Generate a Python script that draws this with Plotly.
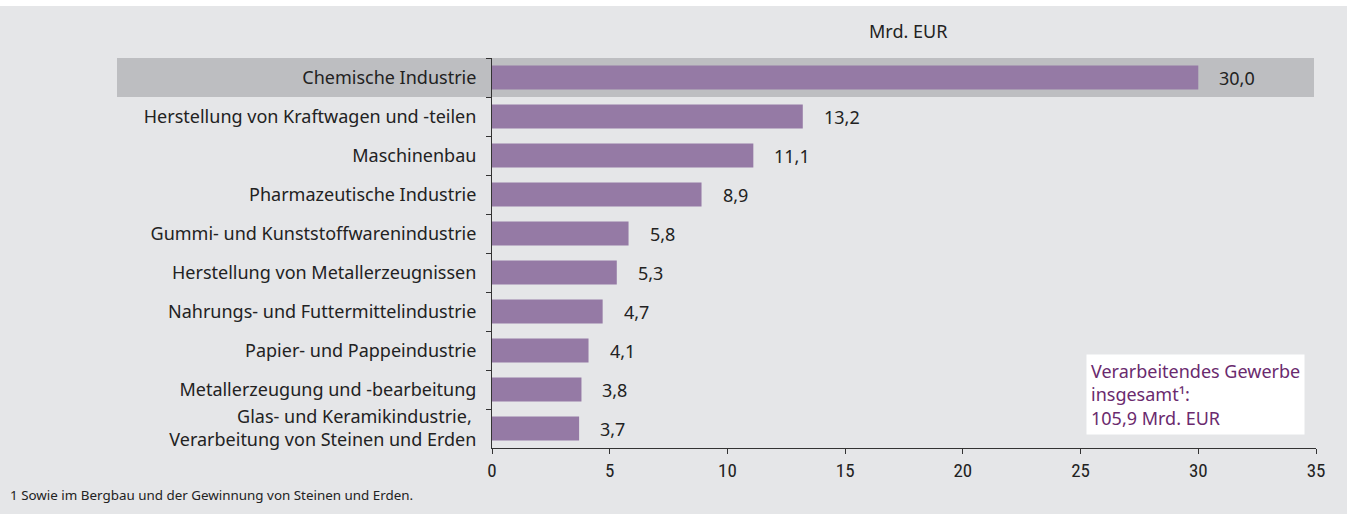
import plotly.graph_objects as go

categories = [
    "Chemische Industrie",
    "Herstellung von Kraftwagen und -teilen",
    "Maschinenbau",
    "Pharmazeutische Industrie",
    "Gummi- und Kunststoffwarenindustrie",
    "Herstellung von Metallerzeugnissen",
    "Nahrungs- und Futtermittelindustrie",
    "Papier- und Pappeindustrie",
    "Metallerzeugung und -bearbeitung",
    "Glas- und Keramikindustrie, <br>Verarbeitung von Steinen und Erden",
]
values = [30.0, 13.2, 11.1, 8.9, 5.8, 5.3, 4.7, 4.1, 3.8, 3.7]
x_ticks = [0, 5, 10, 15, 20, 25, 30, 35]

BG = "#e5e6e8"
BAR = "#957aa5"
TXT = "#222222"
FONT = "Noto Sans"
NARROW = "Liberation Sans Narrow, Roboto Condensed, Noto Sans"

W, H = 1347, 514
L, R, T, B = 492, 31, 58, 66
pw = W - L - R
ph = H - T - B

def px_x(p):
    return (p - L) / pw

def px_y(p):
    return (H - B - p) / ph

fig = go.Figure()
fig.add_trace(go.Bar(
    y=categories, x=values, orientation="h",
    marker=dict(color=BAR, line=dict(width=0)),
    width=0.62,
    hoverinfo="skip",
))

# highlight band behind the first row
fig.add_shape(type="rect", xref="paper", yref="y", x0=px_x(117), x1=px_x(1314),
              y0=-0.5, y1=0.5, fillcolor="#bdbec1", line=dict(width=0), layer="below")
# white strip at top
fig.add_shape(type="rect", xref="paper", yref="paper", x0=px_x(-2), x1=px_x(W + 2),
              y0=px_y(6), y1=px_y(-2), fillcolor="white", line=dict(width=0), layer="below")

for c, v in zip(categories, values):
    fig.add_annotation(x=v, y=c, xref="x", yref="y", text=f"{v:.1f}".replace(".", ","),
                       showarrow=False, xanchor="left", xshift=19,
                       font=dict(family=FONT, size=18, color=TXT))

fig.add_annotation(xref="paper", yref="paper", x=px_x(908), y=px_y(31), text="Mrd. EUR",
                   showarrow=False, xanchor="center", yanchor="middle",
                   font=dict(family=FONT, size=18, color=TXT))

fig.add_annotation(xref="paper", yref="paper", x=px_x(1086), y=px_y(354),
                   text="Verarbeitendes Gewerbe<br>insgesamt¹:<br>105,9 Mrd. EUR",
                   showarrow=False, xanchor="left", yanchor="top", align="left",
                   bgcolor="white", borderpad=4,
                   font=dict(family=FONT, size=18, color="#6a2a6e"))

fig.add_annotation(xref="paper", yref="paper", x=px_x(8), y=px_y(495),
                   text="1 Sowie im Bergbau und der Gewinnung von Steinen und Erden.",
                   showarrow=False, xanchor="left", yanchor="middle",
                   font=dict(family=FONT, size=13.4, color=TXT))

fig.update_layout(
    width=W, height=H,
    margin=dict(l=L, r=R, t=T, b=B, pad=0),
    paper_bgcolor=BG, plot_bgcolor=BG,
    showlegend=False,
    separators=",.",
    xaxis=dict(range=[0, 35], tickvals=x_ticks, showgrid=False, zeroline=False,
               showline=True, linecolor="#333333", linewidth=1,
               ticks="outside", ticklen=5, tickcolor="#333333",
               tickfont=dict(family=NARROW, size=19, color=TXT), fixedrange=True),
    yaxis=dict(autorange="reversed", showgrid=False, zeroline=False,
               showline=True, linecolor="#333333", linewidth=1,
               ticks="outside", ticklen=5, tickcolor="#333333", tickson="boundaries",
               ticklabelstandoff=11,
               tickfont=dict(family=FONT, size=18, color=TXT), fixedrange=True),
)

fig.write_html("out.html", config={"displayModeBar": False, "staticPlot": True},
               post_script="document.body.style.margin='0';document.body.style.overflow='hidden';")
